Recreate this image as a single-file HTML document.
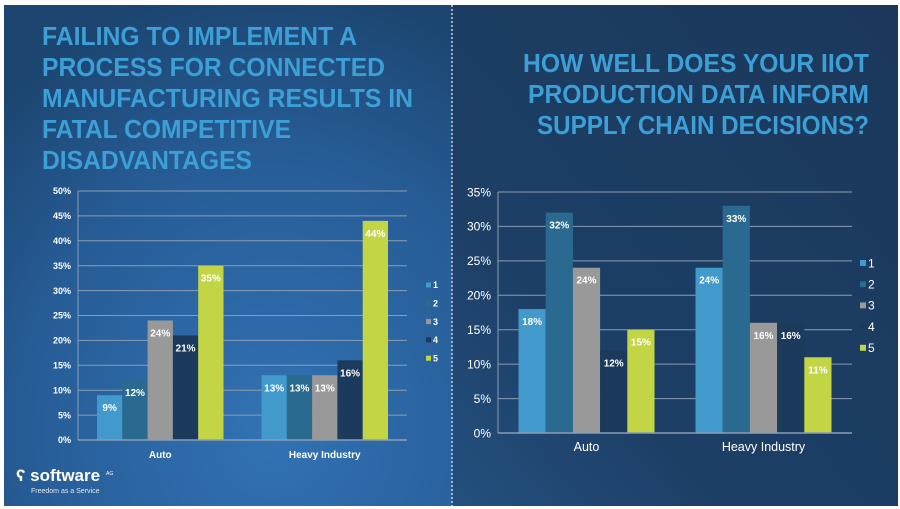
<!DOCTYPE html>
<html><head><meta charset="utf-8"><style>
html,body{margin:0;padding:0;background:#fff;width:900px;height:509px;overflow:hidden}
svg{display:block;font-family:"Liberation Sans",Arial,sans-serif}
</style></head><body>
<svg id="s" width="900" height="509" viewBox="0 0 900 509">
<defs>
<radialGradient id="lg" cx="0.6" cy="0.85" r="0.9">
<stop offset="0" stop-color="#3272b4"/><stop offset="0.6" stop-color="#275d97"/><stop offset="1" stop-color="#1c4570"/>
</radialGradient>
<linearGradient id="rg" x1="0" y1="1" x2="1" y2="0">
<stop offset="0" stop-color="#23507f"/><stop offset="0.3" stop-color="#1d3f66"/><stop offset="1" stop-color="#1b385b"/>
</linearGradient>
</defs>
<rect x="4" y="5" width="448" height="501" fill="url(#lg)"/>
<rect x="452" y="5" width="446" height="501" fill="url(#rg)"/>
<line x1="452" y1="5" x2="452" y2="506" stroke="#c8d4e0" stroke-width="1.5" stroke-dasharray="2,2"/>
<g fill="#3c9fd6" font-weight="bold" font-size="25.5">
<text x="42" y="45" textLength="315" lengthAdjust="spacingAndGlyphs">FAILING TO IMPLEMENT A</text>
<text x="42" y="76" textLength="343" lengthAdjust="spacingAndGlyphs">PROCESS FOR CONNECTED</text>
<text x="42" y="107" textLength="371" lengthAdjust="spacingAndGlyphs">MANUFACTURING RESULTS IN</text>
<text x="42" y="138" textLength="249" lengthAdjust="spacingAndGlyphs">FATAL COMPETITIVE</text>
<text x="42" y="169" textLength="210" lengthAdjust="spacingAndGlyphs">DISADVANTAGES</text>
</g>
<g fill="#3c9fd6" font-weight="bold" font-size="25.5" text-anchor="end">
<text x="869" y="72" textLength="346" lengthAdjust="spacingAndGlyphs">HOW WELL DOES YOUR IIOT</text>
<text x="869" y="103" textLength="341" lengthAdjust="spacingAndGlyphs">PRODUCTION DATA INFORM</text>
<text x="869" y="134" textLength="332" lengthAdjust="spacingAndGlyphs">SUPPLY CHAIN DECISIONS?</text>
</g>
<g>
<text x="16" y="481" fill="#fff" font-weight="bold" font-size="17">ʕ software</text>
<text x="106" y="475" fill="#fff" font-size="5">AG</text>
<text x="31" y="493" fill="#e0e8f0" font-size="7">Freedom as a Service</text>
</g>
<g id="left"></g>
<g id="right"></g>
</svg>
<script>
const categories = ["Auto", "Heavy Industry"];
const seriesNames = ["1", "2", "3", "4", "5"];
const leftValues = [[9, 13], [12, 13], [24, 13], [21, 16], [35, 44]];
const leftTicks = ["0%","5%","10%","15%","20%","25%","30%","35%","40%","45%","50%"];
const rightValues = [[18, 24], [32, 33], [24, 16], [12, 16], [15, 11]];
const rightTicks = ["0%","5%","10%","15%","20%","25%","30%","35%"];
const colors = ["#4199cc", "#2a6a90", "#999999", "#1b3a5c", "#c3d545"];
const NS = "http://www.w3.org/2000/svg";
function mk(parent, tag, attrs, txt) {
  const e = document.createElementNS(NS, tag);
  for (const k in attrs) e.setAttribute(k, attrs[k]);
  if (txt !== undefined) e.textContent = txt;
  parent.appendChild(e); return e;
}
function draw(g, values, ticks, cfg) {
  const max = parseFloat(ticks[ticks.length - 1]);
  const y = v => cfg.y0 - (v / max) * (cfg.y0 - cfg.y1);
  const catW = (cfg.x1 - cfg.x0) / categories.length;
  ticks.forEach(t => {
    const v = parseFloat(t);
    const gl = mk(g, "line", {x1: cfg.x0, x2: cfg.x1, y1: y(v), y2: y(v), stroke: "#8a9db3", "stroke-width": 1});
    
    
    const tl = mk(g, "text", {x: cfg.x0 - 7, y: y(v) + cfg.tf * 0.36, fill: "#fff", "font-size": cfg.tf, "font-weight": cfg.bold, "text-anchor": "end"}, t);
    
    
  });
  const ax = mk(g, "line", {x1: cfg.x0, x2: cfg.x0, y1: cfg.y1, y2: cfg.y0, stroke: "#8a9db3", "stroke-width": 1});
  
  
  categories.forEach((c, ci) => {
    const cx = cfg.x0 + catW * (ci + 0.5);
    const bw = cfg.barW;
    const start = cx - bw * seriesNames.length / 2;
    seriesNames.forEach((s, si) => {
      const v = values[si][ci];
      const bx = start + si * bw;
      const r = mk(g, "rect", {x: bx, y: y(v), width: bw, height: cfg.y0 - y(v), fill: colors[si]});
      
      
      const l = mk(g, "text", {x: bx + bw / 2, y: y(v) + 16, fill: "#fff", "font-size": 10, "font-weight": "bold", "text-anchor": "middle"}, v + "%");
      
      
    });
    const cl = mk(g, "text", {x: cx, y: cfg.y0 + 18, fill: "#fff", "font-size": cfg.cf, "font-weight": cfg.bold, "text-anchor": "middle"}, c);
    
    
  });
  const xa = mk(g, "line", {x1: cfg.x0, x2: cfg.x1, y1: cfg.y0, y2: cfg.y0, stroke: "#8a9db3", "stroke-width": 1.5});
  
  
  seriesNames.forEach((s, si) => {
    const ly = cfg.ly + si * cfg.lstep;
    const sq = mk(g, "rect", {x: cfg.lx, y: ly - cfg.ls / 2, width: cfg.ls, height: cfg.ls, fill: colors[si]});
    
    
    const lt = mk(g, "text", {x: cfg.lx + cfg.ls + 2, y: ly + cfg.lf * 0.36, fill: "#fff", "font-size": cfg.lf, "font-weight": cfg.bold}, s);
    
    
  });
}
draw(document.getElementById("left"), leftValues, leftTicks,
  {x0: 78, x1: 407, y0: 440, y1: 191, barW: 25.3, tf: 9, cf: 10, bold: "bold", lx: 426, ly: 285, lstep: 18.3, ls: 5, lf: 9});
draw(document.getElementById("right"), rightValues, rightTicks,
  {x0: 498, x1: 852, y0: 433, y1: 192, barW: 27.2, tf: 12, cf: 12.5, bold: "normal", lx: 860, ly: 263, lstep: 21.2, ls: 6, lf: 12});
</script>
</body></html>
